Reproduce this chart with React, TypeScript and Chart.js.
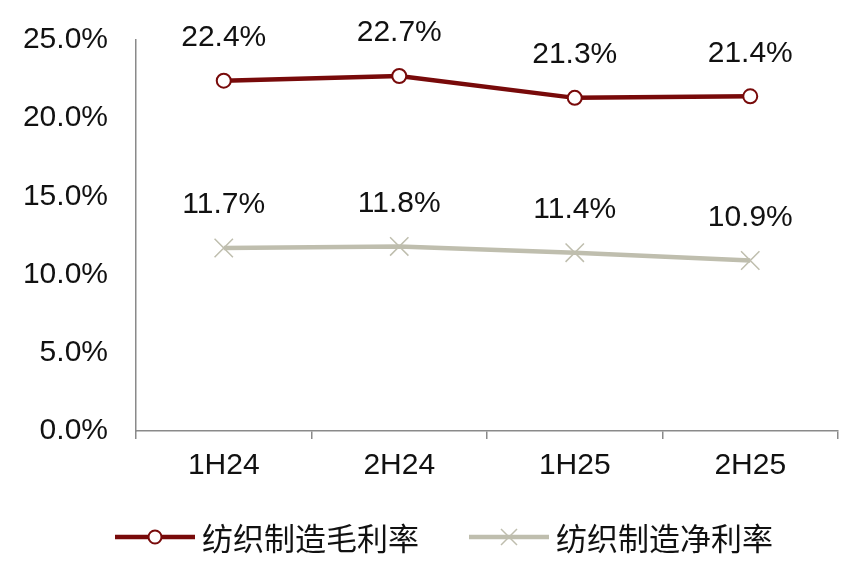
import React, { useEffect, useRef } from "react";
import { Chart, registerables } from "chart.js";

Chart.register(...registerables);

const categories = ["1H24", "2H24", "1H25", "2H25"];
const grossMargin = [22.4, 22.7, 21.3, 21.4];
const netMargin = [11.7, 11.8, 11.4, 10.9];
const seriesNames = ["纺织制造毛利率", "纺织制造净利率"];
const yTicks = [0, 5, 10, 15, 20, 25];

const RED = "#780a0a";
const GRAY = "#bfbeae";
const TEXT = "#111111";
const AXIS = "#8a8a8a";
const FONT = '"Liberation Sans", Arial, "Noto Sans CJK SC", sans-serif';
const CJK = '"Noto Sans CJK SC", "Liberation Sans", sans-serif';

const dataLabelPlugin = {
  id: "dataLabels",
  afterDatasetsDraw(chart: any) {
    const ctx = chart.ctx;
    ctx.save();
    ctx.font = `30px ${FONT}`;
    ctx.fillStyle = TEXT;
    ctx.textAlign = "center";
    ctx.textBaseline = "middle";
    chart.data.datasets.forEach((ds: any, i: number) => {
      const meta = chart.getDatasetMeta(i);
      meta.data.forEach((pt: any, j: number) => {
        ctx.fillText(ds.data[j].toFixed(1) + "%", pt.x, pt.y - 43);
      });
    });
    ctx.restore();
  },
};

const legendPlugin = {
  id: "customLegend",
  afterDraw(chart: any) {
    const ctx = chart.ctx;
    ctx.save();
    const y = 537;
    let x = 115;
    const items = [
      { name: seriesNames[0], color: RED, marker: "circle" },
      { name: seriesNames[1], color: GRAY, marker: "cross" },
    ];
    ctx.font = `31px ${CJK}`;
    ctx.textBaseline = "middle";
    ctx.textAlign = "left";
    items.forEach((it) => {
      const lineLen = 80;
      ctx.strokeStyle = it.color;
      ctx.lineWidth = 4.5;
      ctx.beginPath();
      ctx.moveTo(x, y);
      ctx.lineTo(x + lineLen, y);
      ctx.stroke();
      const cx = x + lineLen / 2;
      if (it.marker === "circle") {
        ctx.fillStyle = "#fff";
        ctx.lineWidth = 2;
        ctx.beginPath();
        ctx.arc(cx, y, 6.5, 0, Math.PI * 2);
        ctx.fill();
        ctx.stroke();
      } else {
        ctx.lineWidth = 1.5;
        ctx.beginPath();
        ctx.moveTo(cx - 8, y - 8);
        ctx.lineTo(cx + 8, y + 8);
        ctx.moveTo(cx + 8, y - 8);
        ctx.lineTo(cx - 8, y + 8);
        ctx.stroke();
      }
      ctx.fillStyle = TEXT;
      const tx = x + lineLen + 7;
      ctx.fillText(it.name, tx, y + 1);
      x = tx + ctx.measureText(it.name).width + 50;
    });
    ctx.restore();
  },
};

export default function App() {
  const ref = useRef<HTMLCanvasElement | null>(null);
  useEffect(() => {
    if (!ref.current) return;
    const chart = new Chart(ref.current, {
      type: "line",
      data: {
        labels: categories,
        datasets: [
          {
            label: seriesNames[0],
            data: grossMargin,
            borderColor: RED,
            borderWidth: 4.5,
            pointStyle: "circle",
            pointRadius: 7,
            pointBorderWidth: 2,
            pointBackgroundColor: "#fff",
            pointBorderColor: RED,
            tension: 0,
          },
          {
            label: seriesNames[1],
            data: netMargin,
            borderColor: GRAY,
            borderWidth: 4.5,
            pointStyle: "crossRot",
            pointRadius: 13,
            pointBorderWidth: 1.5,
            pointBorderColor: GRAY,
            tension: 0,
          },
        ],
      },
      options: {
        animation: false,
        responsive: false,
        layout: { padding: { top: 40, right: 18, bottom: 71, left: 0 } },
        plugins: { legend: { display: false }, tooltip: { enabled: false } },
        scales: {
          x: {
            offset: true,
            grid: {
              offset: true,
              drawOnChartArea: false,
              drawTicks: true,
              tickLength: 8,
              color: AXIS,
              lineWidth: 1.5,
            },
            border: { display: true, color: AXIS, width: 1.5 },
            ticks: {
              padding: 9,
              color: TEXT,
              font: { family: FONT, size: 30 },
            },
            afterFit(scale: any) {
              scale.height = 60;
              scale.paddingLeft = 0;
              scale.paddingRight = 0;
            },
          },
          y: {
            min: 0,
            max: 25,
            afterBuildTicks(scale: any) {
              scale.ticks = yTicks.map((v) => ({ value: v }));
            },
            grid: { drawOnChartArea: false, drawTicks: false },
            border: { display: true, color: AXIS, width: 1.5 },
            ticks: {
              padding: 28,
              color: TEXT,
              font: { family: FONT, size: 30 },
              callback: (v: any) => Number(v).toFixed(1) + "%",
            },
            afterFit(scale: any) {
              scale.width = 136;
              scale.paddingTop = 0;
              scale.paddingBottom = 0;
            },
          },
        },
      },
      plugins: [dataLabelPlugin, legendPlugin],
    });
    return () => chart.destroy();
  }, []);
  return (
    <div style={{ position: "absolute", left: 0, top: 0, width: 856, height: 562, background: "#fff" }}>
      <canvas ref={ref} width={856} height={562} style={{ width: 856, height: 562 }} />
    </div>
  );
}
